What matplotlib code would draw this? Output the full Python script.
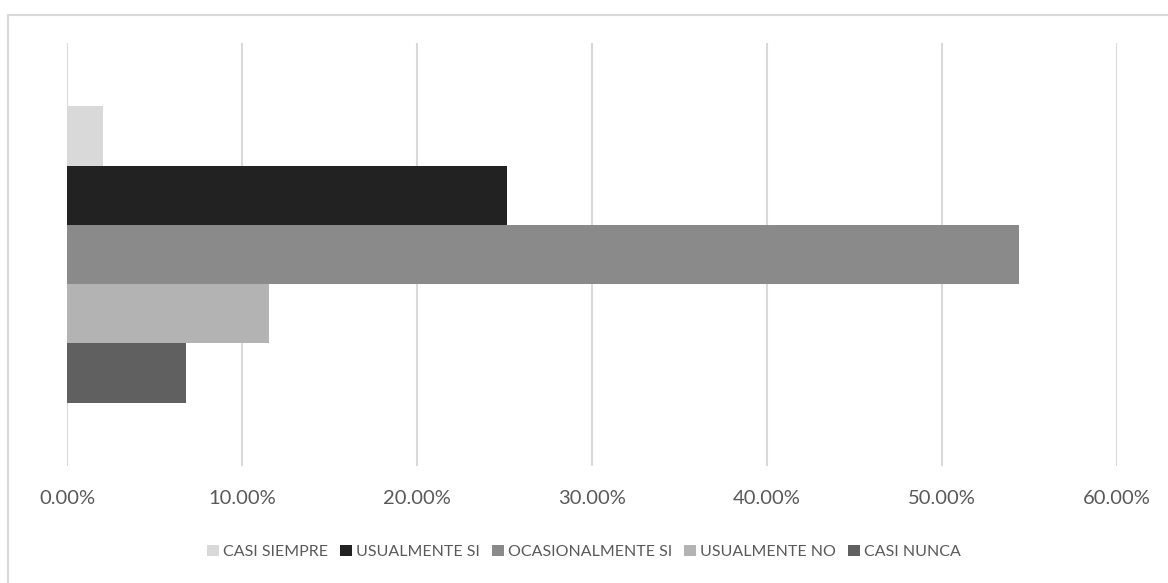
import matplotlib
matplotlib.use("Agg")
import matplotlib.pyplot as plt
import numpy as np
from matplotlib.patches import Rectangle
from matplotlib.ticker import FuncFormatter

# series (one category, five answers), percent of respondents
series = ["CASI SIEMPRE", "USUALMENTE SI", "OCASIONALMENTE SI", "USUALMENTE NO", "CASI NUNCA"]
values = [2.04, 25.17, 54.42, 11.56, 6.80]
colors = ["#d9d9d9", "#222222", "#8a8a8a", "#b3b3b3", "#606060"]
x_ticks = [0, 10, 20, 30, 40, 50, 60]

plt.rcParams["font.family"] = ["Lato", "DejaVu Sans"]

W, H = 1168, 583
fig = plt.figure(figsize=(W / 100, H / 100), dpi=100)
ax = fig.add_axes([67 / W, 1 - 466 / H, (1117 - 67) / W, (466 - 43) / H])

group = 0.70
h = group / len(series)
for i, (name, v, c) in enumerate(zip(series, values, colors)):
    y = group / 2 - h / 2 - i * h
    ax.barh(y, v, height=h, color=c, label=name, zorder=3)

ax.set_xlim(0, 60)
ax.set_ylim(-0.5, 0.5)
ax.set_xticks(x_ticks)
ax.xaxis.set_major_formatter(FuncFormatter(lambda v, _: f"{v:.2f}%"))
ax.set_yticks([])
ax.grid(axis="x", color="#d9d9d9", linewidth=1.5, zorder=0)
for s in ax.spines.values():
    s.set_visible(False)
ax.tick_params(axis="x", length=0, pad=17, labelsize=14.5, labelcolor="#595959")

fig.legend(
    loc="center",
    bbox_to_anchor=(0.5, 1 - 552 / H),
    ncol=5,
    frameon=False,
    fontsize=11.5,
    labelcolor="#595959",
    handlelength=0.75,
    handleheight=0.75,
    handletextpad=0.25,
    columnspacing=0.75,
)

# chart-area border (cut off at right/bottom in the original)
fig.patches.append(
    Rectangle((7.5 / W, -0.2), 1.5, 1.2 - 14.5 / H, transform=fig.transFigure,
              fill=False, edgecolor="#d9d9d9", linewidth=1.5, clip_on=False)
)

fig.savefig("out.png", dpi=100)
